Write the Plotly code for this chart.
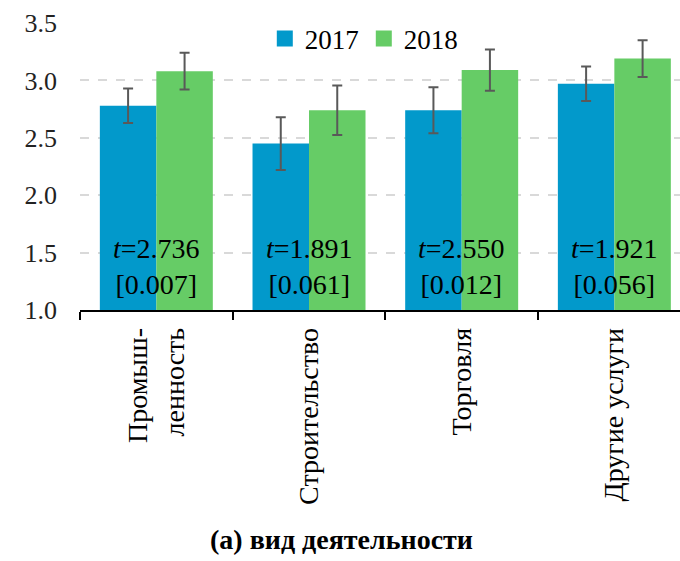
import plotly.graph_objects as go

categories = ["Промыш-<br>ленность", "Строительство", "Торговля", "Другие услуги"]
vals_2017 = [2.78, 2.45, 2.74, 2.97]
err_2017 = [0.15, 0.23, 0.20, 0.15]
vals_2018 = [3.08, 2.74, 3.09, 3.19]
err_2018 = [0.16, 0.215, 0.18, 0.16]
t_stats = ["2.736", "1.891", "2.550", "1.921"]
p_vals = ["0.007", "0.061", "0.012", "0.056"]

FONT = "Liberation Serif"
BLUE = "#0299CB"
GREEN = "#66CC66"

fig = go.Figure()
fig.add_trace(go.Bar(
    x=categories, y=vals_2017, name="2017", showlegend=False,
    marker=dict(color=BLUE, line=dict(width=0)),
    error_y=dict(type="data", array=err_2017, color="#595959", thickness=2, width=5),
))
fig.add_trace(go.Bar(
    x=categories, y=vals_2018, name="2018", showlegend=False,
    marker=dict(color=GREEN, line=dict(width=0)),
    error_y=dict(type="data", array=err_2018, color="#595959", thickness=2, width=5),
))
# квадратные значки легенды
for name, col in [("2017", BLUE), ("2018", GREEN)]:
    fig.add_trace(go.Scatter(
        x=[None], y=[None], mode="markers", name=name,
        marker=dict(symbol="square", size=16, color=col),
    ))

# t-статистика и p-значение
for cat, t, p in zip(categories, t_stats, p_vals):
    fig.add_annotation(
        x=cat, y=1.38, xref="x", yref="y",
        text=f"<i>t</i>={t}<br>[{p}]",
        showarrow=False, yanchor="middle",
        font=dict(family=FONT, size=28, color="black"),
    )

fig.add_annotation(
    x=0.435, y=-0.8, xref="paper", yref="paper",
    xanchor="center", yanchor="middle", showarrow=False,
    text="<b>(а) вид деятельности</b>",
    font=dict(family=FONT, size=28, color="black"),
)

fig.update_layout(
    width=680, height=561,
    barmode="group", bargap=0.26, bargroupgap=0,
    plot_bgcolor="white", paper_bgcolor="white",
    margin=dict(l=80, r=0, t=23, b=251),
    font=dict(family=FONT, size=26, color="#333333"),
    legend=dict(
        orientation="h", x=0.473, xanchor="center", y=0.944, yanchor="middle",
        font=dict(family=FONT, size=27, color="black"),
        bgcolor="rgba(0,0,0,0)", itemsizing="trace",
    ),
    xaxis=dict(
        range=[-0.5, 3.43], tickson="boundaries", ticks="outside", ticklen=8,
        tickcolor="black", tickwidth=1.5, showline=True, linecolor="black",
        linewidth=1.5, tickangle=-90, showgrid=False, ticklabelstandoff=5,
        tickfont=dict(family=FONT, size=28, color="black"),
    ),
    yaxis=dict(
        range=[1.0, 3.5], dtick=0.5, tickformat=".1f", showline=False,
        gridcolor="#D9D9D9", griddash="dash", gridwidth=1.5, zeroline=False,
        tickfont=dict(family=FONT, size=26, color="#222222"), ticks="",
        ticklabelstandoff=22,
    ),
)

fig.write_html("out.html", config={"displayModeBar": False},
               post_script="document.body.style.margin='0';")
